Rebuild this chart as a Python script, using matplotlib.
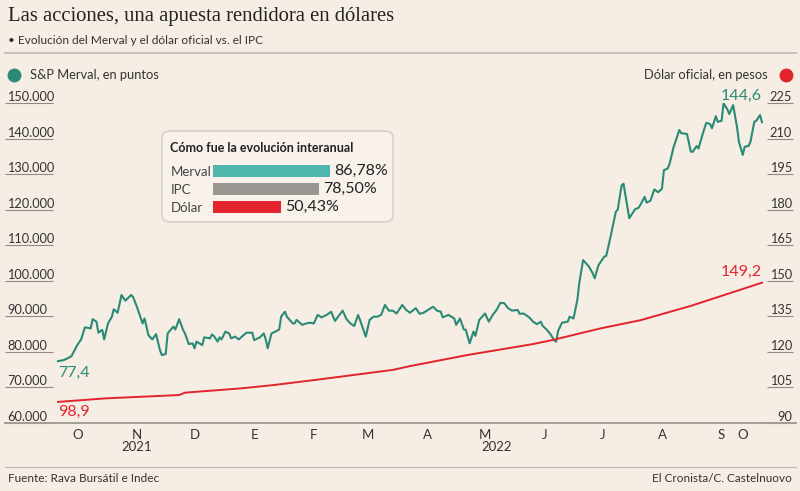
import matplotlib
matplotlib.use("Agg")
import matplotlib.pyplot as plt
from matplotlib.lines import Line2D
from matplotlib.patches import FancyBboxPatch
import pandas as pd

# ---------------- data ----------------
START = "2021-10-05"
merval_day = [0, 3, 5, 7, 10, 12, 14, 17, 18, 20, 21, 23, 24, 26, 28, 29, 31, 33, 35, 38,
              39, 41, 44, 45, 47, 49, 51, 53, 54, 56, 57, 60, 61, 63, 65, 66, 68, 70, 71, 72,
              75, 76, 79, 80, 81, 83, 84, 85, 87, 89, 90, 92, 94, 96, 98, 101, 102, 105, 107, 108,
              109, 111, 113, 115, 116, 118, 119, 122, 123, 124, 127, 129, 131, 133, 135, 137, 140, 142, 144, 148,
              150, 152, 154, 156, 157, 160, 162, 164, 166, 168, 170, 172, 174, 176, 179, 181, 183, 186, 188, 190,
              193, 195, 197, 199, 200, 203, 206, 207, 209, 211, 212, 214, 216, 217, 219, 222, 224, 226, 228, 230,
              232, 234, 236, 239, 240, 242, 245, 247, 249, 251, 252, 254, 256, 258, 259, 260, 262, 265, 266, 268,
              270, 271, 273, 276, 278, 279, 281, 284, 285, 287, 288, 290, 291, 293, 294, 297, 300, 302, 305, 306,
              308, 310, 312, 314, 315, 317, 318, 320, 323, 324, 327, 329, 330, 332, 333, 335, 337, 339, 340, 342,
              343, 345, 346, 348, 349, 351, 353, 354, 356, 357, 359, 360, 362, 363, 365, 366]
merval_k = [77.4, 77.7, 78.2, 78.8, 81.9, 83.5, 86.9, 86.6, 89.2, 88.5, 85.4, 86.2, 83.5, 88.0, 89.9, 92.0, 91.0, 96.0, 94.4, 96.0,
            95.5, 92.7, 88.0, 89.4, 84.7, 83.5, 85.0, 80.5, 79.1, 79.4, 85.2, 87.1, 86.3, 89.2, 86.2, 85.2, 82.2, 82.4, 81.0, 82.9,
            81.9, 84.1, 83.8, 84.9, 84.5, 82.9, 84.1, 83.5, 85.7, 85.2, 83.8, 84.3, 83.5, 84.5, 85.4, 85.4, 83.3, 84.1, 85.2, 83.5,
            81.0, 85.2, 85.7, 86.3, 89.9, 91.3, 89.9, 88.0, 88.0, 89.0, 87.6, 88.0, 88.2, 88.0, 90.4, 89.7, 90.5, 91.3, 88.7, 91.6,
            89.2, 88.0, 87.3, 90.4, 89.0, 84.3, 89.0, 89.9, 89.9, 90.4, 93.2, 91.6, 91.6, 90.8, 93.2, 91.8, 91.0, 92.3, 90.7, 91.0,
            92.0, 92.7, 91.6, 91.3, 89.7, 90.4, 89.4, 87.6, 89.4, 86.3, 86.2, 82.4, 85.7, 84.5, 89.0, 90.8, 88.5, 90.4, 91.8, 93.8,
            93.7, 92.3, 91.6, 91.8, 90.7, 90.8, 89.7, 88.5, 87.8, 88.5, 87.3, 86.3, 85.0, 83.2, 82.9, 85.9, 88.2, 88.5, 89.9, 89.4,
            94.6, 99.4, 105.8, 104.0, 102.1, 100.7, 104.4, 106.8, 107.0, 111.7, 114.3, 119.4, 120.0, 126.8, 127.3, 117.6, 120.1, 120.6, 123.6, 122.0,
            122.5, 125.7, 124.9, 125.9, 131.1, 131.6, 133.0, 137.5, 142.4, 141.5, 141.3, 136.3, 136.3, 137.9, 137.2, 141.0, 144.4, 144.1, 142.9, 146.3,
            144.7, 145.0, 149.9, 148.2, 146.9, 149.4, 143.3, 139.1, 135.4, 137.7, 137.9, 139.1, 144.7, 145.0, 146.6, 144.6]

dolar_day = [0, 25, 63, 66, 95, 112, 136, 174, 183, 213, 247, 257, 282, 303, 329, 366]
dolar = [98.9, 100.4, 101.8, 102.8, 104.6, 106.0, 108.4, 112.4, 114.0, 118.7, 123.3, 125.0, 129.9, 133.4, 139.4, 149.2]

month_labels = ["O", "N", "D", "E", "F", "M", "A", "M", "J", "J", "A", "S", "O"]
month_ticks = ["2021-10-15", "2021-11-15", "2021-12-15", "2022-01-15", "2022-02-15", "2022-03-15",
               "2022-04-15", "2022-05-15", "2022-06-15", "2022-07-15", "2022-08-15", "2022-09-15", "2022-09-26"]
year_labels = ["2021", "2022"]
year_ticks = ["2021-11-15", "2022-05-21"]

left_ticks = [60, 70, 80, 90, 100, 110, 120, 130, 140, 150]
right_ticks = [90, 105, 120, 135, 150, 165, 180, 195, 210, 225]

inset_cats = ["Merval", "IPC", "Dólar"]
inset_vals = [86.78, 78.50, 50.43]

# ---------------- style ----------------
W, H = 800, 491
BG = "#f6eee5"
TEAL = "#2a8a76"
TEAL_BAR = "#4fb7ad"
GRAY_BAR = "#9a9691"
RED = "#e3232d"
TXT = "#333333"
TICKC = "#8f8a84"
FONT = ["Lato", "DejaVu Sans"]
plt.rcParams["font.family"] = FONT


def fx(px):
    return px / W


def fy(py):
    return 1 - py / H


start = pd.Timestamp(START)
m_dates = start + pd.to_timedelta(merval_day, unit="D")
d_dates = start + pd.to_timedelta(dolar_day, unit="D")

fig = plt.figure(figsize=(W / 100, H / 100), dpi=100, facecolor=BG)

# main axes: x 53..767 px, y 103..423 px
ax = fig.add_axes([fx(53), fy(423), fx(767) - fx(53), fy(103) - fy(423)])
ax.set_facecolor("none")
ax2 = ax.twinx()
ax2.set_facecolor("none")

ax.plot(m_dates, merval_k, color=TEAL, lw=1.5, solid_joinstyle="round", zorder=3)
ax2.plot(d_dates, dolar, color=RED, lw=1.4, solid_joinstyle="round", zorder=2)

pad_days = 5 / 1.923
ax.set_xlim(start - pd.Timedelta(days=pad_days), m_dates[-1] + pd.Timedelta(days=pad_days))
ax.set_ylim(60, 150)
ax2.set_ylim(90, 225)

for a in (ax, ax2):
    for s in a.spines.values():
        s.set_visible(False)

ax.set_yticks(left_ticks)
ax.tick_params(axis="y", direction="out", length=48 * 0.72, width=0.8, color=TICKC, labelleft=False)
ax2.set_yticks(right_ticks)
ax2.tick_params(axis="y", direction="out", length=26 * 0.72, width=0.8, color=TICKC, labelright=False)

for v in left_ticks:
    ax.text((7 - 53) / 714, v, f"{v * 1000:,.0f}".replace(",", "."), transform=ax.get_yaxis_transform(),
            ha="left", va="bottom", fontsize=9.2, color=TXT)
for v in right_ticks:
    ax2.text((792 - 53) / 714, v, f"{v}", transform=ax2.get_yaxis_transform(),
             ha="right", va="bottom", fontsize=9.2, color=TXT)

ax.set_xticks(pd.to_datetime(month_ticks))
ax.set_xticklabels(month_labels)
ax.tick_params(axis="x", length=0, pad=4, labelsize=9.5, labelcolor=TXT)
for d, lab in zip(pd.to_datetime(year_ticks), year_labels):
    ax.text(d, (423 - 447) / 320, lab, transform=ax.get_xaxis_transform(), ha="center", va="center",
            fontsize=9.5, color=TXT)

# value annotations
ax.annotate(f"{merval_k[0]:.1f}".replace(".", ","), xy=(m_dates[0], merval_k[0]), xytext=(0, -12),
            textcoords="offset pixels", ha="left", va="center", fontsize=11.5, color=TEAL)
ax.annotate(f"{merval_k[-1]:.1f}".replace(".", ","), xy=(m_dates[-1], merval_k[-1]), xytext=(0, 26),
            textcoords="offset pixels", ha="right", va="center", fontsize=11.5, color=TEAL)
ax2.annotate(f"{dolar[0]:.1f}".replace(".", ","), xy=(d_dates[0], dolar[0]), xytext=(0, -10),
             textcoords="offset pixels", ha="left", va="center", fontsize=11.5, color=RED)
ax2.annotate(f"{dolar[-1]:.1f}".replace(".", ","), xy=(d_dates[-1], dolar[-1]), xytext=(0, 11),
             textcoords="offset pixels", ha="right", va="center", fontsize=11.5, color=RED)

# rules
for y, lw, col in [(53, 1.2, "#bdb7b0"), (423, 1.4, "#a39d96"), (467, 0.9, "#bdb7b0")]:
    fig.add_artist(Line2D([fx(5), fx(796)], [fy(y), fy(y)], transform=fig.transFigure, color=col, lw=lw))

# titles
fig.text(fx(8), fy(17), "Las acciones, una apuesta rendidora en dólares", family=["Liberation Serif", "DejaVu Serif"],
         fontsize=14.9, color="#222222", ha="left", va="center")
fig.text(fx(8), fy(40), "• Evolución del Merval y el dólar oficial vs. el IPC", fontsize=8.6, color=TXT,
         ha="left", va="center")

# legends
fig.add_artist(Line2D([fx(14)], [fy(75)], marker="o", markersize=9, color=TEAL, transform=fig.transFigure))
fig.text(fx(30), fy(75), "S&P Merval, en puntos", fontsize=9.3, color=TXT, ha="left", va="center")
fig.add_artist(Line2D([fx(786)], [fy(75)], marker="o", markersize=9, color=RED, transform=fig.transFigure))
fig.text(fx(768), fy(75), "Dólar oficial, en pesos", fontsize=9.3, color=TXT, ha="right", va="center")

# footer
fig.text(fx(8), fy(479), "Fuente: Rava Bursátil e Indec", fontsize=8.5, color=TXT, ha="left", va="center")
fig.text(fx(792), fy(479), "El Cronista/C. Castelnuovo", fontsize=8.5, color=TXT, ha="right", va="center")

# inset box
box = FancyBboxPatch((fx(162), fy(222)), fx(393) - fx(162), fy(131) - fy(222),
                     boxstyle="round,pad=0,rounding_size=0.012", transform=fig.transFigure,
                     facecolor="#f8f2eb", edgecolor="#d8d2ca", lw=1.3, zorder=5)
fig.add_artist(box)
fig.text(fx(170), fy(148), "Cómo fue la evolución interanual", fontsize=9, fontweight="bold", color="#222222",
         ha="left", va="center", zorder=6)

iax = fig.add_axes([fx(213), fy(216), fx(348) - fx(213), fy(162) - fy(216)], zorder=7)
iax.set_facecolor("none")
bar_colors = [TEAL_BAR, GRAY_BAR, RED]
ypos = list(range(len(inset_cats)))
iax.barh(ypos, inset_vals, height=0.66, color=bar_colors)
iax.set_xlim(0, 100)
iax.set_ylim(2.5, -0.5)
for s in iax.spines.values():
    s.set_visible(False)
iax.set_xticks([])
iax.set_yticks(ypos)
iax.set_yticklabels(inset_cats)
iax.tick_params(axis="y", length=0, pad=(213 - 171) * 0.72, labelsize=9.5, labelcolor="#444444")
for lab in iax.get_yticklabels():
    lab.set_ha("left")
for y, v in zip(ypos, inset_vals):
    iax.annotate(f"{v:.2f}".replace(".", ",") + "%", xy=(v, y), xytext=(4, 0), textcoords="offset pixels",
                 ha="left", va="center", fontsize=11.5, color="#222222")

fig.savefig("out.png", dpi=100, facecolor=BG)
